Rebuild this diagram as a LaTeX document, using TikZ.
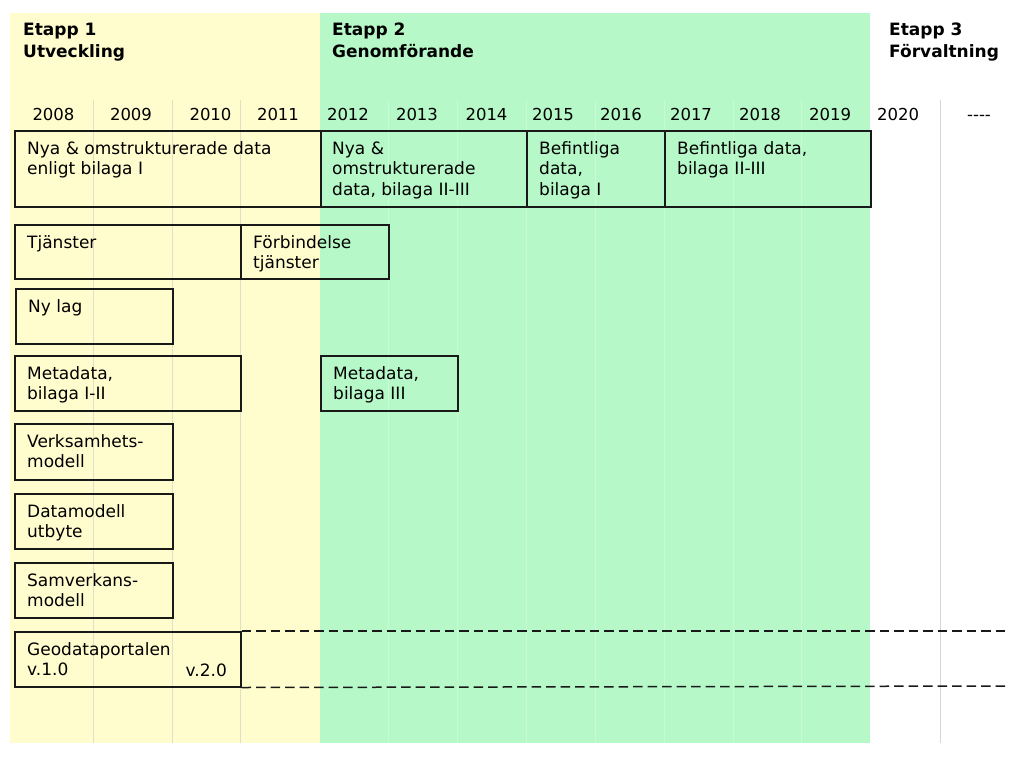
\documentclass[tikz,border=0pt]{standalone}
\usepackage{fontspec}
\setmainfont{DejaVu Sans}
\definecolor{yel}{RGB}{255,253,206}
\definecolor{grn}{RGB}{182,248,199}
\definecolor{gridy}{RGB}{226,223,196}
\definecolor{gridg}{RGB}{200,250,212}
\definecolor{gridw}{RGB}{214,214,214}
\definecolor{edge}{RGB}{25,25,25}
\tikzset{
  box/.style={draw=edge, line width=1.5pt, rectangle, inner sep=0pt, anchor=north west},
  txt/.style={font=\fontsize{17}{20.5}\selectfont, inner sep=0pt, anchor=north west, align=left},
  head/.style={font=\bfseries\fontsize{17}{22}\selectfont, inner sep=0pt, anchor=north west, align=left},
  yr/.style={font=\fontsize{16.5}{20}\selectfont, inner sep=0pt, anchor=base},
  dashline/.style={draw=edge, line width=1.5pt, dash pattern=on 9.5pt off 5pt},
  gl/.style={line width=0.8pt}
}
\begin{document}
\begin{tikzpicture}[x=1pt,y=-1pt]
\useasboundingbox (0,0) rectangle (1024,758);
\fill[white] (0,0) rectangle (1024,758);
% phase backgrounds
\fill[yel] (10,13) rectangle (320,743);
\fill[grn] (320,13) rectangle (870,743);
% grid lines
\foreach \gx in {93,172,240} {\draw[gl,gridy] (\gx,100) -- (\gx,743);}
\foreach \gx in {388,457,526,595,664,733,801} {\draw[gl,gridg] (\gx,100) -- (\gx,743);}
\draw[gl,gridw] (940,100) -- (940,743);
% headings
\node[head] (h1) at (23,19.6) {\strut Etapp 1\\Utveckling};
\node[head] (h2) at (332,19.6) {\strut Etapp 2\\Genomförande};
\node[head] (h3) at (889,19.6) {\strut Etapp 3\\Förvaltning};
% years
\node[yr] (y08) at (53.5,120) {2008};
\node[yr] (y09) at (131,120) {2009};
\node[yr] (y10) at (210.5,120) {2010};
\node[yr] (y11) at (278,120) {2011};
\node[yr] (y12) at (348,120) {2012};
\node[yr] (y13) at (417,120) {2013};
\node[yr] (y14) at (486.5,120) {2014};
\node[yr] (y15) at (553,120) {2015};
\node[yr] (y16) at (621,120) {2016};
\node[yr] (y17) at (691,120) {2017};
\node[yr] (y18) at (760,120) {2018};
\node[yr] (y19) at (830,120) {2019};
\node[yr] (y20) at (898,120) {2020};
\node[yr] (ydots) at (979,120) {-{}-{}-{}-};
% data row
\node[box, minimum width=306pt, minimum height=76pt] (d1) at (14,130) {};
\node[box, minimum width=206pt, minimum height=76pt] (d2) at (320,130) {};
\node[box, minimum width=138pt, minimum height=76pt] (d3) at (526,130) {};
\node[box, minimum width=206pt, minimum height=76pt] (d4) at (664,130) {};
\node[txt] (d1t) at (27,139.6) {\strut Nya \& omstrukturerade data\\enligt bilaga I};
\node[txt] (d2t) at (332,139.6) {\strut Nya \&\\omstrukturerade\\data, bilaga II-III};
\node[txt] (d3t) at (539,139.6) {\strut Befintliga\\data,\\bilaga I};
\node[txt] (d4t) at (677,139.6) {\strut Befintliga data,\\bilaga II-III};
% services
\node[box, minimum width=226pt, minimum height=54pt] (s1) at (14,224) {};
\node[box, minimum width=148pt, minimum height=54pt] (s2) at (240,224) {};
\node[txt] (s1t) at (27,233.6) {\strut Tjänster};
\node[txt] (s2t) at (253,233.6) {\strut Förbindelse\\tjänster};
% law
\node[box, minimum width=157pt, minimum height=55pt] (law) at (15,288) {};
\node[txt] (lawt) at (28,297.6) {\strut Ny lag};
% metadata
\node[box, minimum width=226pt, minimum height=55pt] (m1) at (14,355) {};
\node[box, minimum width=137pt, minimum height=55pt] (m2) at (320,355) {};
\node[txt] (m1t) at (27,364.6) {\strut Metadata,\\bilaga I-II};
\node[txt] (m2t) at (333,364.6) {\strut Metadata,\\bilaga III};
% models
\node[box, minimum width=158pt, minimum height=56pt] (vm) at (14,423) {};
\node[txt] (vmt) at (27,432.6) {\strut Verksamhets-\\modell};
\node[box, minimum width=158pt, minimum height=55pt] (dm) at (14,493) {};
\node[txt] (dmt) at (27,502.6) {\strut Datamodell\\utbyte};
\node[box, minimum width=158pt, minimum height=55pt] (sm) at (14,562) {};
\node[txt] (smt) at (27,571.6) {\strut Samverkans-\\modell};
% portal
\node[box, minimum width=226pt, minimum height=55pt] (geo) at (14,631) {};
\node[txt] (geot) at (27,640.6) {\strut Geodataportalen\\v.1.0};
\node[font=\fontsize{17}{20.5}\selectfont, inner sep=0pt, anchor=base east] (v2) at (227,676) {v.2.0};
\coordinate (e1) at (1007,631);
\coordinate (e2) at (1007,686);
\draw[dashline] (geo.north east) -- (e1);
\draw[dashline] (geo.south east) -- (e2);
\end{tikzpicture}
\end{document}
